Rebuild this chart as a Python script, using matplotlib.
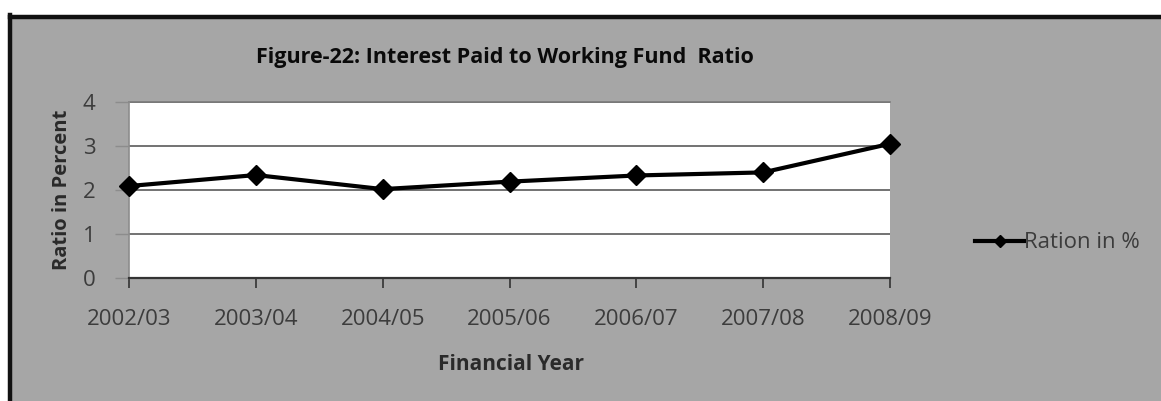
import matplotlib
matplotlib.use("Agg")
import matplotlib.pyplot as plt
from matplotlib.patches import Rectangle
from matplotlib.lines import Line2D

years = ["2002/03", "2003/04", "2004/05", "2005/06", "2006/07", "2007/08", "2008/09"]
ratio = [2.09, 2.34, 2.02, 2.19, 2.33, 2.40, 3.05]
y_ticks = [0, 1, 2, 3, 4]

title_text = "Figure-22: Interest Paid to Working Fund  Ratio"
x_title = "Financial Year"
y_title = "Ratio in Percent"
series_name = "Ration in %"

W, H = 1161, 401
fig = plt.figure(figsize=(W / 100, H / 100), dpi=100, facecolor="white")

# chart frame: grey panel with a heavy black border on top and left
panel_grey = "#a6a6a6"
fig.patches.append(Rectangle((9, -10), W + 20, 386 + 10, transform=None,
                             facecolor=panel_grey, edgecolor="none", zorder=0))
fig.add_artist(Line2D([10, W + 5], [384.5, 384.5], transform=None, color="#111111", lw=3.2, zorder=1))
fig.add_artist(Line2D([10, 10], [-5, 386], transform=None, color="#111111", lw=3.2, zorder=1))

ax = fig.add_axes([129 / W, 1 - 278 / H, (890 - 129) / W, (278 - 102) / H])
ax.set_zorder(3)
ax.set_facecolor("white")
x = list(range(len(years)))
ax.plot(x, ratio, color="black", lw=3, marker="D", markersize=10, label=series_name, zorder=3,
        clip_on=False)

ax.set_xlim(0, len(years) - 1)
ax.set_ylim(0, 4)
ax.set_yticks(y_ticks)
ax.set_xticks(x)
ax.set_xticklabels(years)
ax.grid(axis="y", color="#5a5a5a", lw=1.2)
ax.set_axisbelow(True)

for s in ["top", "right"]:
    ax.spines[s].set_visible(False)
ax.spines["left"].set_color("#8c8c8c")
ax.spines["left"].set_linewidth(1.2)
ax.spines["bottom"].set_color("#333333")
ax.spines["bottom"].set_linewidth(1.6)
ax.plot([0, 1], [1, 1], transform=ax.transAxes, color="#7a7a7a", lw=1.2, clip_on=False)

tick_font = "Open Sans"
ax.tick_params(axis="y", length=10, width=1.0, color="#8c8c8c", pad=14,
               labelsize=16, labelcolor="#3c3c3c")
ax.tick_params(axis="x", length=7, width=1.2, color="#333333", pad=15,
               labelsize=16, labelcolor="#3c3c3c")
for lab in ax.get_xticklabels() + ax.get_yticklabels():
    lab.set_fontfamily(tick_font)

fig.text(505 / W, 1 - 58 / H, title_text, ha="center", va="center",
         fontsize=15.5, fontweight="bold", family="Open Sans", color="#0a0a0a")
fig.text(511 / W, 1 - 364 / H, x_title, ha="center", va="center",
         fontsize=15, fontweight="bold", family="Open Sans", color="#2a2a2a")
fig.text(62 / W, 1 - 190 / H, y_title, ha="center", va="center", rotation=90,
         fontsize=14.5, fontweight="bold", family="Open Sans", color="#2a2a2a")

leg = fig.legend(loc="center left", bbox_to_anchor=(964 / W, 1 - 243 / H),
                 frameon=False, handlelength=2.2, handletextpad=0.0,
                 borderaxespad=0, borderpad=0.5,
                 prop={"family": "Open Sans", "size": 16}, markerscale=0.6)
for t in leg.get_texts():
    t.set_color("#3c3c3c")

fig.savefig("out.png", dpi=100, facecolor=fig.get_facecolor())
